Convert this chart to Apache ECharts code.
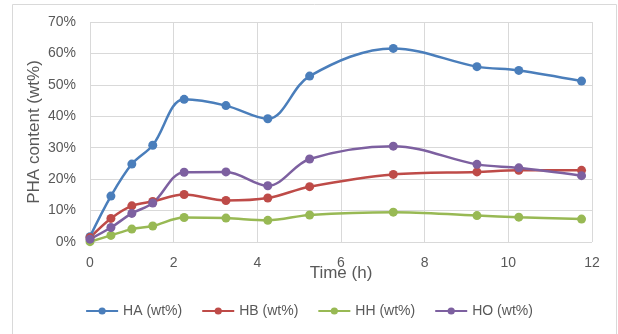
<!DOCTYPE html>
<html><head><meta charset="utf-8">
<script src="https://cdn.jsdelivr.net/npm/echarts@6/dist/echarts.min.js"></script>
<style>html,body{margin:0;padding:0;background:#fff}#c{width:618px;height:334px}</style>
</head><body><div id="c"></div>
<script>
const time = [0, 0.5, 1, 1.5, 2.25, 3.25, 4.25, 5.25, 7.25, 9.25, 10.25, 11.75];
const HA = [1.7, 14.6, 24.8, 30.8, 45.4, 43.4, 39.2, 52.8, 61.6, 55.8, 54.6, 51.2];
const HB = [1.4, 7.5, 11.5, 12.9, 15.1, 13.2, 14.0, 17.6, 21.5, 22.3, 22.8, 22.8];
const HH = [0.1, 2.1, 4.1, 5.1, 7.8, 7.6, 6.9, 8.6, 9.5, 8.4, 7.9, 7.3];
const HO = [0.9, 4.6, 9.1, 12.4, 22.2, 22.3, 17.9, 26.4, 30.5, 24.7, 23.6, 21.1];
const seriesNames = ['HA (wt%)', 'HB (wt%)', 'HH (wt%)', 'HO (wt%)'];
const colors = ['#4A7EBB', '#BE4B48', '#98B954', '#7D60A0'];
const all = [HA, HB, HH, HO];

const chart = echarts.init(document.getElementById('c'));
const font = 'Liberation Sans';
chart.setOption({
  animation: false,
  textStyle: {fontFamily: font},
  graphic: [{type: 'rect', shape: {x: 12.5, y: 4.5, width: 604, height: 340},
    style: {fill: 'none', stroke: '#D9D9D9', lineWidth: 1}, silent: true}],
  grid: {left: 90, right: 26, top: 22, bottom: 92},
  xAxis: {
    type: 'value', min: 0, max: 12, interval: 2,
    name: 'Time (h)', nameLocation: 'middle', nameGap: 23, nameMoveOverlap: false,
    nameTextStyle: {fontSize: 17, color: '#595959', fontFamily: font},
    axisLine: {show: false}, axisTick: {show: false},
    axisLabel: {fontSize: 14, color: '#595959', margin: 14},
    splitLine: {show: true, lineStyle: {color: '#D9D9D9', width: 1}}
  },
  yAxis: {
    type: 'value', min: 0, max: 70, interval: 10,
    name: 'PHA content (wt%)', nameLocation: 'middle', nameGap: 47, nameMoveOverlap: false,
    nameTextStyle: {fontSize: 17, color: '#595959', fontFamily: font},
    axisLine: {show: false}, axisTick: {show: false},
    axisLabel: {fontSize: 14, color: '#595959', formatter: '{value}%', margin: 14},
    splitLine: {show: true, lineStyle: {color: '#D9D9D9', width: 1}}
  },
  legend: {
    bottom: 11, left: 'center', itemGap: 19, itemWidth: 32, itemHeight: 9,
    textStyle: {fontSize: 14, color: '#595959', fontFamily: font},
    data: seriesNames
  },
  series: all.map((arr, i) => ({
    name: seriesNames[i], type: 'line', smooth: 0.35,
    data: time.map((t, j) => [t, arr[j]]),
    symbol: 'circle', symbolSize: 9,
    lineStyle: {width: 2.5, color: colors[i]},
    itemStyle: {color: colors[i]}
  }))
});
</script></body></html>
